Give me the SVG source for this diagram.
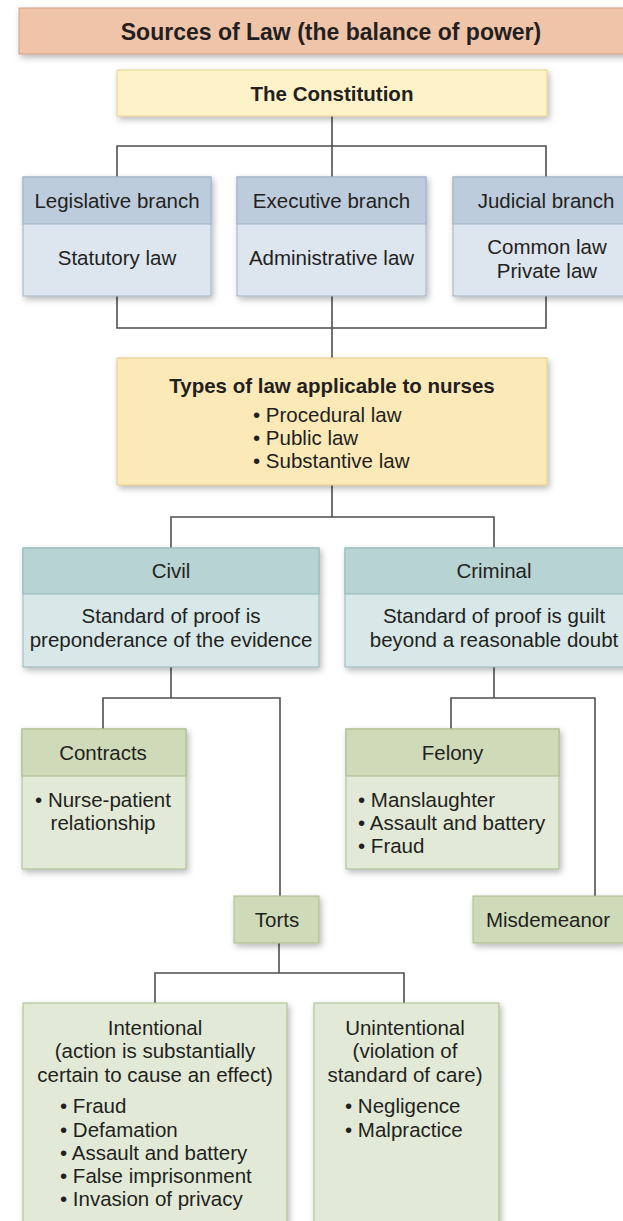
<svg xmlns="http://www.w3.org/2000/svg" width="623" height="1221" viewBox="0 0 623 1221">
<style>
text{font-family:"Liberation Sans",Arial,Helvetica,sans-serif;fill:#231F20;font-size:20.5px}
.c{text-anchor:middle}
.b{font-weight:bold}
.title{font-size:23px;font-weight:bold}
.con{fill:none;stroke:#4F4F4F;stroke-width:1.6}
.sal{fill:#F0C4A8;stroke:#D49D82;stroke-width:1}
.yel{fill:#FEF2C9;stroke:#E8D18C;stroke-width:1}
.yel2{fill:#FCE9B8;stroke:#E6CA82;stroke-width:1}
.bh{fill:#BDCCDC;stroke:#9FB2C7;stroke-width:1}
.bb{fill:#DDE5EF;stroke:#9FB2C7;stroke-width:1}
.th{fill:#B8D3D3;stroke:#93B7B8;stroke-width:1}
.tb{fill:#D8E8E8;stroke:#93B7B8;stroke-width:1}
.gh{fill:#CFDAB8;stroke:#A9BB8C;stroke-width:1}
.gb{fill:#E2EAD7;stroke:#A9BB8C;stroke-width:1}
</style>
<defs>
<filter id="sh" x="-10%" y="-10%" width="130%" height="140%">
<feDropShadow dx="2" dy="3" stdDeviation="3" flood-color="#000" flood-opacity="0.28"/>
</filter>
</defs>

<g id="connectors">
<path class="con" d="M332,116 V177"/>
<path class="con" d="M117,177 V146 H546 V177"/>
<path class="con" d="M117,296 V328 H546 V296"/>
<path class="con" d="M332,296 V358"/>
<path class="con" d="M332,485 V517"/>
<path class="con" d="M171,548 V517 H494 V548"/>
<path class="con" d="M171,667 V698"/>
<path class="con" d="M103,729 V698 H280 V896"/>
<path class="con" d="M494,667 V698"/>
<path class="con" d="M451,729 V698 H595 V896"/>
<path class="con" d="M279,943 V973"/>
<path class="con" d="M155,1003 V973 H404 V1003"/>
</g>

<g id="title">
<rect class="sal" x="19" y="8" width="625" height="46" filter="url(#sh)"/>
<text class="title c" x="331" y="39.5">Sources of Law (the balance of power)</text>
</g>

<g id="constitution">
<rect class="yel" x="117" y="70" width="430" height="46" filter="url(#sh)"/>
<text class="b c" x="332" y="100.5">The Constitution</text>
</g>

<g id="legislative">
<g filter="url(#sh)">
<rect class="bb" x="23" y="177" width="188" height="119"/>
<rect class="bh" x="23" y="177" width="188" height="47"/>
</g>
<text class="c" x="117" y="207.5">Legislative branch</text>
<text class="c" x="117" y="265">Statutory law</text>
</g>

<g id="executive">
<g filter="url(#sh)">
<rect class="bb" x="237" y="177" width="189" height="119"/>
<rect class="bh" x="237" y="177" width="189" height="47"/>
</g>
<text class="c" x="331.5" y="207.5">Executive branch</text>
<text class="c" x="331.5" y="265">Administrative law</text>
</g>

<g id="judicial">
<g filter="url(#sh)">
<rect class="bb" x="453" y="177" width="188" height="119"/>
<rect class="bh" x="453" y="177" width="188" height="47"/>
</g>
<text class="c" x="546" y="207.5">Judicial branch</text>
<text class="c" x="547" y="254">Common law</text>
<text class="c" x="547" y="277.5">Private law</text>
</g>

<g id="types">
<rect class="yel2" x="117" y="358" width="430" height="127" filter="url(#sh)"/>
<text class="b c" x="332" y="392.5">Types of law applicable to nurses</text>
<text x="253" y="422">• Procedural law</text>
<text x="253" y="445">• Public law</text>
<text x="253" y="468">• Substantive law</text>
</g>

<g id="civil">
<g filter="url(#sh)">
<rect class="tb" x="23" y="548" width="296" height="119"/>
<rect class="th" x="23" y="548" width="296" height="46"/>
</g>
<text class="c" x="171" y="578">Civil</text>
<text class="c" x="171" y="623">Standard of proof is</text>
<text class="c" x="171" y="646.5">preponderance of the evidence</text>
</g>

<g id="criminal">
<g filter="url(#sh)">
<rect class="tb" x="345" y="548" width="298" height="119"/>
<rect class="th" x="345" y="548" width="298" height="46"/>
</g>
<text class="c" x="494" y="578">Criminal</text>
<text class="c" x="494" y="623">Standard of proof is guilt</text>
<text class="c" x="494" y="646.5">beyond a reasonable doubt</text>
</g>

<g id="contracts">
<g filter="url(#sh)">
<rect class="gb" x="22" y="729" width="164" height="140"/>
<rect class="gh" x="22" y="729" width="164" height="47"/>
</g>
<text class="c" x="103" y="760">Contracts</text>
<text class="c" x="103" y="806.5">• Nurse-patient</text>
<text class="c" x="103" y="830">relationship</text>
</g>

<g id="felony">
<g filter="url(#sh)">
<rect class="gb" x="346" y="729" width="213" height="140"/>
<rect class="gh" x="346" y="729" width="213" height="47"/>
</g>
<text class="c" x="452.5" y="760">Felony</text>
<text x="358" y="806.5">• Manslaughter</text>
<text x="358" y="829.5">• Assault and battery</text>
<text x="358" y="852.5">• Fraud</text>
</g>

<g id="torts">
<rect class="gh" x="234" y="896" width="85" height="47" filter="url(#sh)"/>
<text class="c" x="277" y="927">Torts</text>
</g>

<g id="misdemeanor">
<rect class="gh" x="473" y="896" width="152" height="47" filter="url(#sh)"/>
<text class="c" x="548" y="927">Misdemeanor</text>
</g>

<g id="intentional">
<rect class="gb" x="23" y="1003" width="264" height="240" filter="url(#sh)"/>
<text class="c" x="155" y="1035">Intentional</text>
<text class="c" x="155" y="1058.3">(action is substantially</text>
<text class="c" x="155" y="1081.7">certain to cause an effect)</text>
<text x="60" y="1113.3">• Fraud</text>
<text x="60" y="1136.7">• Defamation</text>
<text x="60" y="1160">• Assault and battery</text>
<text x="60" y="1183">• False imprisonment</text>
<text x="60" y="1206">• Invasion of privacy</text>
</g>

<g id="unintentional">
<rect class="gb" x="314" y="1003" width="185" height="240" filter="url(#sh)"/>
<text class="c" x="405" y="1035">Unintentional</text>
<text class="c" x="405" y="1058.3">(violation of</text>
<text class="c" x="405" y="1081.7">standard of care)</text>
<text x="345" y="1113.3">• Negligence</text>
<text x="345" y="1136.7">• Malpractice</text>
</g>
</svg>
